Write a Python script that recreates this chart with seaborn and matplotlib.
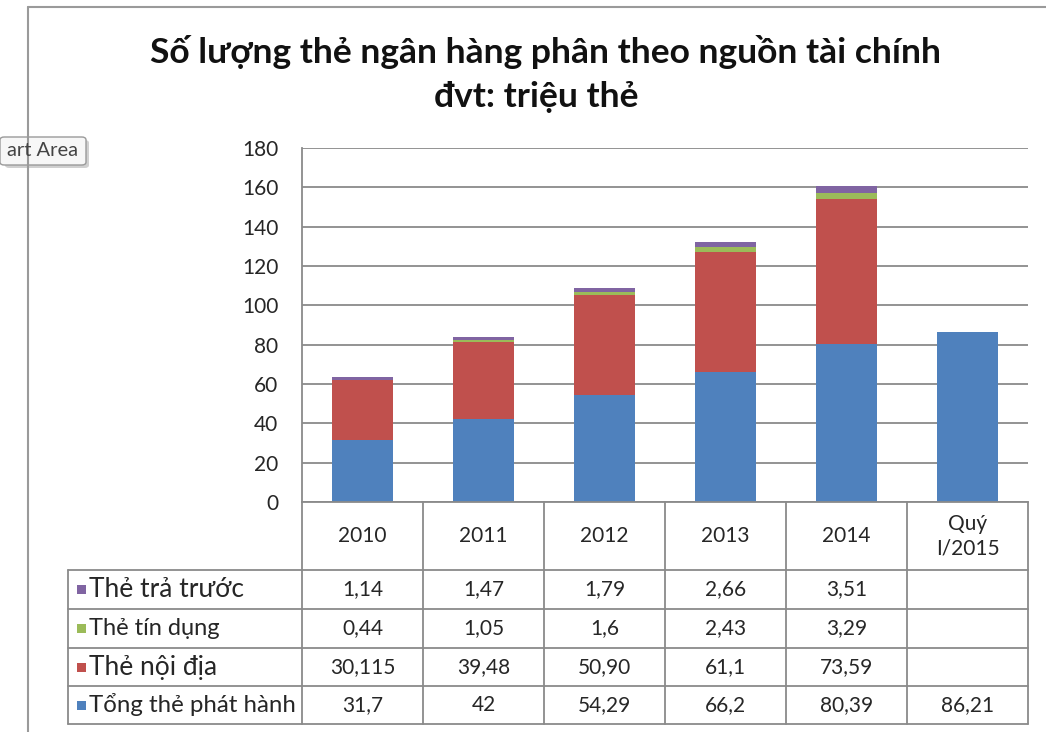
import numpy as np
import pandas as pd
import matplotlib
matplotlib.use("Agg")
import matplotlib.pyplot as plt
from matplotlib.patches import Rectangle, FancyBboxPatch
from matplotlib.transforms import blended_transform_factory
import seaborn as sns

# ---- data (triệu thẻ) ----
periods = ["2010", "2011", "2012", "2013", "2014", "Quý\nI/2015"]
tong_phat_hanh = [31.7, 42, 54.29, 66.2, 80.39, 86.21]
noi_dia = [30.115, 39.48, 50.90, 61.1, 73.59, None]
tin_dung = [0.44, 1.05, 1.6, 2.43, 3.29, None]
tra_truoc = [1.14, 1.47, 1.79, 2.66, 3.51, None]

# table text as printed (Vietnamese decimal comma)
tong_text = ["31,7", "42", "54,29", "66,2", "80,39", "86,21"]
noi_dia_text = ["30,115", "39,48", "50,90", "61,1", "73,59", ""]
tin_dung_text = ["0,44", "1,05", "1,6", "2,43", "3,29", ""]
tra_truoc_text = ["1,14", "1,47", "1,79", "2,66", "3,51", ""]

series_names = ["Tổng thẻ phát hành", "Thẻ nội địa", "Thẻ tín dụng", "Thẻ trả trước"]
series_colors = ["#4F81BD", "#C0504D", "#9BBB59", "#8064A2"]

sns.set_theme(style="white")
plt.rcParams["font.family"] = ["Lato", "Open Sans", "DejaVu Sans"]

W, H = 1046, 732
fig = plt.figure(figsize=(W / 100, H / 100), dpi=100)

def fx(px):
    return px / W

def fy(py):
    return 1 - py / H

# plot area
x0, x1, y_top, y_bot = 302, 1028, 148, 502
ax = fig.add_axes([fx(x0), fy(y_bot), fx(x1) - fx(x0), fy(y_top) - fy(y_bot)])

layers = [tong_phat_hanh, noi_dia, tin_dung, tra_truoc]
bottom = np.zeros(len(periods))
for name, vals, col in zip(series_names, layers, series_colors):
    v = pd.Series(vals, dtype=float).fillna(0).to_numpy()
    df = pd.DataFrame({"period": periods, "value": v})
    sns.barplot(data=df, x="period", y="value", order=periods, color=col,
                width=0.5, errorbar=None, bottom=bottom, ax=ax,
                saturation=1, linewidth=0, edgecolor=col)
    bottom = bottom + v

grid_col = "#8a8a8a"
text_col = "#262626"
ax.set_ylim(0, 180)
ax.set_xlim(-0.5, len(periods) - 0.5)
ax.set_yticks(np.arange(0, 181, 20))
ax.yaxis.grid(True, color=grid_col, linewidth=1.3)
ax.set_axisbelow(True)
ax.tick_params(axis="y", labelsize=15, colors=text_col, length=0, pad=17)
ax.set_xticks([])
ax.set_xlabel("")
ax.set_ylabel("")
for s in ["top", "right"]:
    ax.spines[s].set_visible(False)
ax.spines["left"].set_color(grid_col)
ax.spines["left"].set_linewidth(1.3)
ax.spines["bottom"].set_color(grid_col)
ax.spines["bottom"].set_linewidth(1.3)

# ---- data table beneath the plot ----
tr = blended_transform_factory(ax.transData, fig.transFigure)
row_edges = [502, 570, 609, 648, 686, 724]
label_left = 68
line_kw = dict(color=grid_col, linewidth=1.3, clip_on=False)
n = len(periods)

# column separators (x in category units)
for b in np.arange(-0.5, n, 1.0):
    ax.plot([b, b], [fy(row_edges[0]), fy(row_edges[-1])], transform=tr, **line_kw)
# horizontal rules, from the label column to the right edge
for r in row_edges[1:]:
    fig.add_artist(plt.Line2D([fx(label_left), fx(x1)], [fy(r), fy(r)], **line_kw))
fig.add_artist(plt.Line2D([fx(label_left), fx(label_left)],
                          [fy(row_edges[1]), fy(row_edges[-1])], **line_kw))

# header row
for i, p in enumerate(periods):
    ax.text(i, fy((row_edges[0] + row_edges[1]) / 2), p, transform=tr,
            ha="center", va="center", fontsize=15, color=text_col,
            linespacing=1.3)

table_rows = [
    (series_names[3], series_colors[3], tra_truoc_text, 19),
    (series_names[2], series_colors[2], tin_dung_text, 17),
    (series_names[1], series_colors[1], noi_dia_text, 19),
    (series_names[0], series_colors[0], tong_text, 17.3),
]
for k, (name, col, texts, lsz) in enumerate(table_rows):
    yc = fy((row_edges[k + 1] + row_edges[k + 2]) / 2)
    fig.add_artist(Rectangle((fx(label_left + 9), yc - 4.5 / H), 9 / W, 9 / H,
                             transform=fig.transFigure, facecolor=col,
                             edgecolor="none"))
    fig.text(fx(label_left + 21), yc, name, ha="left", va="center",
             fontsize=lsz, color=text_col)
    for i, t in enumerate(texts):
        ax.text(i, yc, t, transform=tr, ha="center", va="center",
                fontsize=15, color=text_col)

# ---- title ----
fig.text(fx(545), fy(52), "Số lượng thẻ ngân hàng phân theo nguồn tài chính",
         ha="center", va="center", fontsize=25.5, fontweight="bold", color="#111111")
fig.text(fx(536), fy(97), "đvt: triệu thẻ",
         ha="center", va="center", fontsize=25.5, fontweight="bold", color="#111111")

# chart area frame (top and left edges)
fig.add_artist(plt.Line2D([fx(28), 1], [fy(7), fy(7)], color="#9a9a9a", linewidth=1.5))
fig.add_artist(plt.Line2D([fx(28), fx(28)], [fy(7), 0], color="#9a9a9a", linewidth=1.5))

# hover tooltip
shadow = FancyBboxPatch((fx(5), fy(168)), fx(89) - fx(5), fy(140) - fy(168),
                        boxstyle="round,pad=0,rounding_size=0.004",
                        transform=fig.transFigure, facecolor="#d0d0d0",
                        edgecolor="none")
tip = FancyBboxPatch((fx(0), fy(165)), fx(86) - fx(0), fy(137) - fy(165),
                     boxstyle="round,pad=0,rounding_size=0.004",
                     transform=fig.transFigure, facecolor="#f7f7f7",
                     edgecolor="#9a9a9a", linewidth=1.0)
fig.add_artist(shadow)
fig.add_artist(tip)
fig.text(fx(7), fy(151), "art Area", ha="left", va="center", fontsize=14.5,
         color="#444444")

fig.savefig("out.png", dpi=100, facecolor="white")
